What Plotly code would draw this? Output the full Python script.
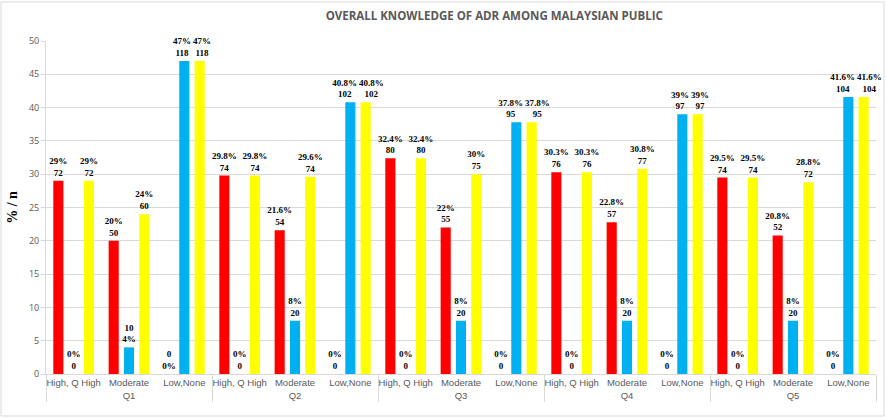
import plotly.graph_objects as go

groups = ["Q1", "Q2", "Q3", "Q4", "Q5"]
levels = ["High, Q High", "Moderate", "Low,None"]

# values per group: [High, Moderate, Low]
red_vals = [29, 20, 0, 29.8, 21.6, 0, 32.4, 22, 0, 30.3, 22.8, 0, 29.5, 20.8, 0]
red_text = ["29%<br>72", "20%<br>50", "0<br>0%",
            "29.8%<br>74", "21.6%<br>54", "0%<br>0",
            "32.4%<br>80", "22%<br>55", "0%<br>0",
            "30.3%<br>76", "22.8%<br>57", "0%<br>0",
            "29.5%<br>74", "20.8%<br>52", "0%<br>0"]
blue_vals = [0, 4, 47, 0, 8, 40.8, 0, 8, 37.8, 0, 8, 39, 0, 8, 41.6]
blue_text = ["0%<br>0", "10<br>4%", "47%<br>118",
             "0%<br>0", "8%<br>20", "40.8%<br>102",
             "0%<br>0", "8%<br>20", "37.8%<br>95",
             "0%<br>0", "8%<br>20", "39%<br>97",
             "0%<br>0", "8%<br>20", "41.6%<br>104"]
yellow_vals = [29, 24, 47, 29.8, 29.6, 40.8, 32.4, 30, 37.8, 30.3, 30.8, 39, 29.5, 28.8, 41.6]
yellow_text = ["29%<br>72", "24%<br>60", "47%<br>118",
               "29.8%<br>74", "29.6%<br>74", "40.8%<br>102",
               "32.4%<br>80", "30%<br>75", "37.8%<br>95",
               "30.3%<br>76", "30.8%<br>77", "39%<br>97",
               "29.5%<br>74", "28.8%<br>72", "41.6%<br>104"]

x_outer = [g for g in groups for _ in levels]
x_inner = [l for _ in groups for l in levels]
x = [x_outer, x_inner]


def spread(label, side):
    """Nudge labels of side-by-side equal bars apart (as the original does)."""
    lines = label.split("<br>")
    n = 5 if len(lines[0]) > 4 else 2
    pad = "\u00a0" * n
    if side == "left":
        lines = [ln + pad for ln in lines]
    else:
        lines = [pad + ln for ln in lines]
    return "<br>".join(lines)


blue_disp = [spread(t, "left") if lv == "Low,None" else t
             for t, lv in zip(blue_text, x_inner)]
yellow_disp = [spread(t, "right") if lv == "Low,None" else t
               for t, lv in zip(yellow_text, x_inner)]

fig = go.Figure()
for vals, txt, col in [(red_vals, red_text, "#FF0000"),
                       (blue_vals, blue_disp, "#00B0F0"),
                       (yellow_vals, yellow_disp, "#FFFF00")]:
    fig.add_trace(go.Bar(
        x=x, y=vals, text=txt, textposition="outside",
        textfont=dict(family="Liberation Serif", size=9, color="black", weight="bold"),
        constraintext="none", cliponaxis=False,
        marker=dict(color=col, line=dict(width=0)),
        showlegend=False, hoverinfo="skip",
    ))

W, H = 886, 418
ml, mr, mt, mb = 46, 10, 41, 44
pw, ph = W - ml - mr, H - mt - mb

def px_x(p):
    return (p - ml) / pw

def px_y(p):
    return (H - mb - p) / ph

fig.update_layout(
    width=W, height=H,
    margin=dict(l=ml, r=mr, t=mt, b=mb),
    paper_bgcolor="white", plot_bgcolor="white",
    barmode="group", bargap=0.17, bargroupgap=0.34,
    title=dict(text="<b>OVERALL KNOWLEDGE OF ADR AMONG MALAYSIAN PUBLIC</b>",
               x=px_x(509), xanchor="center", y=1 - 16 / H, yanchor="middle",
               font=dict(family="Open Sans", size=11.5, color="#595959")),
    xaxis=dict(
        type="multicategory", showgrid=False, showline=True, linecolor="#D9D9D9",
        linewidth=1, ticks="outside", ticklen=4, tickcolor="rgba(0,0,0,0)", tickangle=0,
        tickfont=dict(family="Liberation Sans", size=9.5, color="#595959"),
        showdividers=True, dividercolor="#D9D9D9", dividerwidth=1, automargin=False,
    ),
    yaxis=dict(
        range=[0, 50], dtick=5, showgrid=True, gridcolor="#D9D9D9", gridwidth=1,
        showline=True, linecolor="#D9D9D9", linewidth=1, ticks="outside", ticklen=4,
        tickcolor="#D9D9D9", zeroline=False,
        tickfont=dict(family="Open Sans", size=9, color="#595959"), automargin=False,
        title=dict(text="<b>% / n</b>", standoff=8,
                   font=dict(family="Liberation Serif", size=14, color="black")),
    ),
    shapes=[dict(type="rect", xref="paper", yref="paper",
                 x0=px_x(1), x1=px_x(884), y0=px_y(416), y1=px_y(2),
                 line=dict(color="#D9D9D9", width=1), fillcolor="rgba(0,0,0,0)",
                 layer="below")],
)

fig.write_html("out.html", config={"displayModeBar": False})
with open("out.html", "r", encoding="utf-8") as f:
    html = f.read()
html = html.replace("<head>", "<head><style>html,body{margin:0;padding:0;overflow:hidden;}</style>", 1)
with open("out.html", "w", encoding="utf-8") as f:
    f.write(html)
